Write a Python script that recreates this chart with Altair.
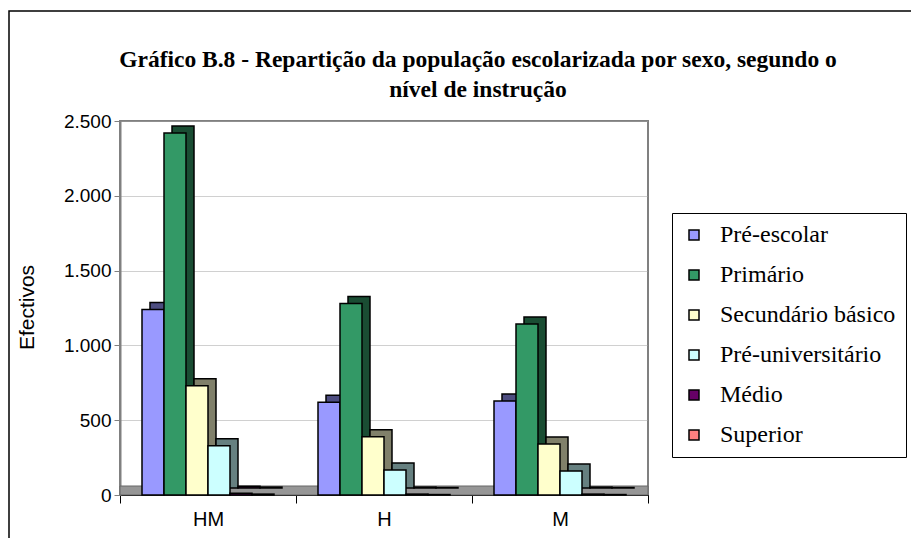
import altair as alt
import pandas as pd

# ---- data ----
sexes = ["HM", "H", "M"]
levels = ["Pré-escolar", "Primário", "Secundário básico", "Pré-universitário", "Médio", "Superior"]
pre_escolar = [1240, 620, 628]
primario = [2420, 1280, 1143]
secundario = [730, 390, 341]
pre_univ = [330, 167, 160]
medio = [12, 6, 6]
superior = [6, 3, 3]

front_colors = ["#9999FF", "#339966", "#FFFFCC", "#CCFFFF", "#660066", "#FF8080"]
side_colors = ["#4D4D80", "#1A4D33", "#80806A", "#668080", "#330033", "#804040"]

title_lines = ["Gráfico B.8 - Repartição da população escolarizada por sexo, segundo o",
               "nível de instrução"]

series = [pre_escolar, primario, secundario, pre_univ, medio, superior]
rows = []
for lvl, vals, sc in zip(levels, series, side_colors):
    for s, v in zip(sexes, vals):
        rows.append({"Sexo": s, "Nivel": lvl, "Efectivos": v, "side": sc})
df = pd.DataFrame(rows)
one = pd.DataFrame({"k": [0]})

W, H = 528, 374
BAND = W / 3
DEPTH = 8
SERIF = "Liberation Serif"

x_enc = alt.X("Sexo:N", sort=sexes,
              scale=alt.Scale(paddingInner=0, paddingOuter=0),
              axis=alt.Axis(title=None, labelFont="Liberation Sans", labelFontSize=20,
                            labelColor="black", labelPadding=6, ticks=True,
                            tickBand="extent", tickSize=8, tickColor="black",
                            domainColor="black", domainWidth=1, labelAngle=0))
y_enc = alt.Y("Efectivos:Q",
              scale=alt.Scale(domain=[0, 2500], nice=False),
              axis=alt.Axis(values=[0, 500, 1000, 1500, 2000, 2500],
                            labelExpr="replace(format(datum.value, ','), ',', '.')",
                            labelFont="Liberation Sans", labelFontSize=19, labelColor="black",
                            tickSize=6, tickColor="#808080", labelPadding=3,
                            domainColor="#808080", domainWidth=2,
                            grid=True, gridColor="#A0A0A0", gridDash=[1, 1], gridWidth=1,
                            title="Efectivos", titleFont="Liberation Sans", titleFontSize=21,
                            titleFontWeight="normal", titleColor="black",
                            titleX=-93, titleY=186, titleAngle=-90, titleBaseline="middle"))

border = alt.Chart(one).mark_rect(fill=None, stroke="black", strokeWidth=1.5).encode(
    x=alt.value(-111), x2=alt.value(820), y=alt.value(-110), y2=alt.value(460)
)

title = alt.Chart(one).mark_text(
    text=title_lines, font=SERIF, fontSize=23.5, fontWeight="bold",
    color="black", align="center", baseline="middle", lineHeight=30
).encode(x=alt.value(358), y=alt.value(-61))

floor = alt.Chart(one).mark_rect(fill="#969696", stroke="#666666", strokeWidth=1).encode(
    x=alt.value(0), x2=alt.value(W), y=alt.value(H - 9), y2=alt.value(H)
)

shadow = alt.Chart(df).mark_bar(stroke="black", strokeWidth=1.5, yOffset=-7).encode(
    x=x_enc,
    xOffset=alt.XOffset("Nivel:N", sort=levels,
                        scale=alt.Scale(paddingInner=0, paddingOuter=1,
                                        range=[DEPTH, BAND + DEPTH])),
    y=y_enc,
    color=alt.Color("side:N", scale=None),
)

front = alt.Chart(df).mark_bar(stroke="black", strokeWidth=1.5).encode(
    x=x_enc,
    xOffset=alt.XOffset("Nivel:N", sort=levels,
                        scale=alt.Scale(paddingInner=0, paddingOuter=1, range=[0, BAND])),
    y=y_enc,
    color=alt.Color("Nivel:N", sort=levels,
                    scale=alt.Scale(domain=levels, range=front_colors),
                    legend=alt.Legend(title=None, orient="none", legendX=552, legendY=92,
                                      strokeColor="black", padding=10,
                                      labelFont=SERIF, labelFontSize=24,
                                      labelColor="black", labelLimit=400,
                                      symbolType="square", symbolSize=100,
                                      symbolStrokeColor="black", symbolStrokeWidth=1.5,
                                      rowPadding=16, labelOffset=14)),
)

chart = alt.layer(border, title, floor, shadow, front).resolve_scale(
    xOffset="independent"
).properties(
    width=W, height=H,
    autosize=alt.AutoSizeParams(type="none"),
    padding={"left": 112, "top": 113, "right": 263, "bottom": 43},
).configure_view(stroke="#808080", strokeWidth=2
).configure_legend(labelFont=SERIF, labelFontSize=24)

chart.save("out.html", embed_options={"renderer": "svg", "actions": False})
